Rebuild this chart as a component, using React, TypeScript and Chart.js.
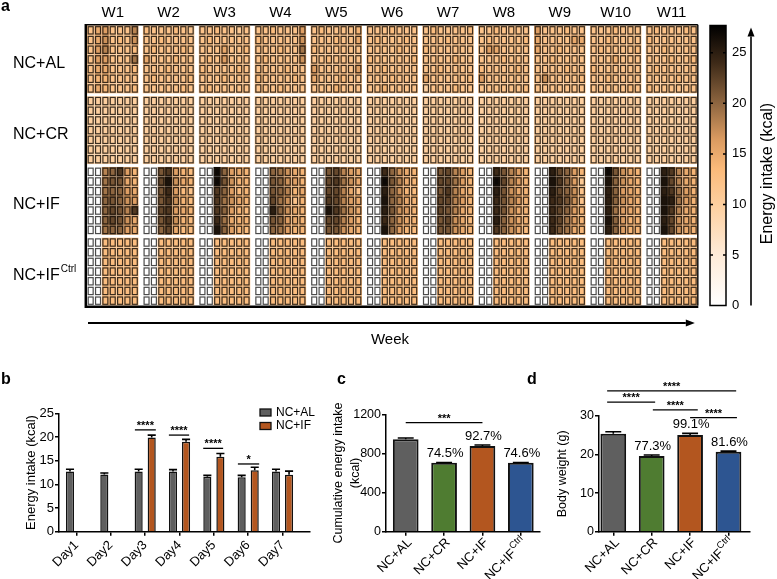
import React, { useEffect, useRef } from 'react';
import { Chart, registerables } from 'chart.js';

Chart.register(...registerables);

const FONT = "'Liberation Sans', Arial, Helvetica, sans-serif";
Chart.defaults.font.family = FONT;
Chart.defaults.color = '#000';

// ---------------- Panel a: heatmap data ----------------
const WEEKS = ['W1', 'W2', 'W3', 'W4', 'W5', 'W6', 'W7', 'W8', 'W9', 'W10', 'W11'];
const GROUP_NAMES = ['NC+AL', 'NC+CR', 'NC+IF', 'NC+IF'];
const GROUP_SUPS = ['', '', '', 'Ctrl'];
// each row = one mouse; 11 weeks of 7 days; each character = kcal (base-36 digit)
const HEAT_AL = [
  'CFGCCCI DCCCDCB CCDCCBC CCDCCCG CDCCCCE CCCDCCC CDCCCCD CCDCCCC GCCCDCC CCCDCCC CDCCCDC',
  'CFHCDCH CCDCCCC CDCCCCC DCCCCCH CCCDCCF CDCCCDC CCCDCCC CDCCCCD FCCCCFF CCDCCCC DCCCCCC',
  'CGICCCD CDCCCDC CCCFCCD CCCDCCJ DCCCCCC CCCCDCC DCCCCCC CGFCCCC FCCDCCC CDCCCCD CCDCCCC',
  'CGGCCCJ FCCCDCC CDCGCCC CDCCCCH CCDCCCC DCCCCCD CCCCDCC CCCDCCC CCDCCCC CCCECCC CCCDCCD',
  'CFFCCCD CCCDCCC DCCCCDC CCCCDCC GCCCCCG CCDCCCC CCDCCCC DCCCCDC CCCCDCC DCCCCCC CDCCCCC',
  'CEECCCC CDCCCCD CCCDCCC DCCCCDC FCCCDCC CCCDCCC FCCCCCD GCCCCCC CHCCCCD CCDCCCC CCCCDCC',
  'CFECCCD CCCCCDC CDCCCCC CCCDCCC CCCECCC CCECCCC ACCCDCC CCCCCCD CCCCCCC CCCCCDC DCCCCCC',
];
const HEAT_CR = [
  'AAAAAAA AAAAAAA AAAAAAA AAAAAAA AAAAAAA AAAAAAA AAAAAAA AAAAAAA AAAAAAA AAAAAAA AAAAAAA',
  'AAAAAAA AAAAAAA AAAAAAA AAAAAAA AAAAAAA AAAAAAA AAAAAAA AAAAAAA AAAAAAA AAAAAAA AAAAAAA',
  'AAAAAAA AAAAAAA AAAAAAA AAAAAAA AAAAAAA AAAAAAA AAAAAAA AAAAAAA AAAAAAA AAAAAAA AAAAAAA',
  'AAAAAAA AAAAAAA AAAAAAA AAAAAAA AAAAAAA AAAAAAA AAAAAAA AAAAAAA AAAAAAA AAAAAAA AAAAAAA',
  'AAAAAAA AAAAAAA AAAAAAA AAAAAAA AAAAAAA AAAAAAA AAAAAAA AAAAAAA AAAAAAA AAAAAAA AAAAAAA',
  'AAAAAAA AAAAAAA AAAAAAA AAAAAAA AAAAAAA AAAAAAA AAAAAAA AAAAAAA AAAAAAA AAAAAAA AAAAAAA',
  'AAAAAAA AAAAAAA AAAAAAA AAAAAAA AAAAAAA AAAAAAA AAAAAAA AAAAAAA AAAAAAA AAAAAAA AAAAAAA',
];
const HEAT_IF = [
  '00IKNGE 00LNGED 00RKGFE 00KJHFE 00LMIGF 00OKHFE 00LMIGE 00OLIGE 00PMKGE 00RLHFE 00PNIFE',
  '00JLLFE 00MQHFE 00RLHEE 00LKHGE 00MNJHF 00RLIFE 00MMJGE 00RMIGE 00QNKGB 00QKHFE 00QMIFE',
  '00JKKGF 00LOGDC 00NKGDE 00LKIEF 00MMIFC 00PKHED 00LNIFE 00PLHFE 00PMKHC 00PKGFE 00PNJGE',
  '00KLKHG 00LNHED 00NJHFE 00MJHCE 00NMIGF 00QKIFE 00MMIGE 00OLIGE 00ONLHC 00PKHFE 00QPJGE',
  '00KMLIN 00MNGFE 00NKGED 00PKHFE 00QNJHF 00PLHGE 00MLIFE 00OLHFE 00OMKGE 00PJGFE 00QNIFE',
  '00KMLHF 00LNHED 00OJFEE 00LKGFE 00MMIGE 00OKHFE 00LMHFD 00PKHFE 00OMJGE 00QKGEE 00PMHFE',
  '00JKKGF 00KMFDD 00QKGED 00KJGEE 00LLHFE 00QKGED 00LLHFE 00NKHFD 00OLJFE 00PKGEE 00QMHFE',
];
const HEAT_IFC = [
  '00DDDDD 00DDDDD 00DDDDD 00DDDDD 00DDDDD 00DDDDD 00DDDDD 00DDDDD 00DDDDD 00DDDDD 00DDDDD',
  '00DDDDD 00DDDDD 00DDDDD 00DDDDD 00DDDDD 00DDDDD 00DDDDD 00DDDDD 00DDDDD 00DDDDD 00DDDDD',
  '00DDDDD 00DDDDD 00DDDDD 00DDDDD 00DDDDD 00DDDDD 00DDDDD 00DDDDD 00DDDDD 00DDDDD 00DDDDD',
  '00DDDDD 00DDDDD 00DDDDD 00DDDDD 00DDDDD 00DDDDD 00DDDDD 00DDDDD 00DDDDD 00DDDDD 00DDDDD',
  '00DDDDD 00DDDDD 00DDDDD 00DDDDD 00DDDDD 00DDDDD 00DDDDD 00DDDDD 00DDDDD 00DDDDD 00DDDDD',
  '00DDDDD 00DDDDD 00DDDDD 00DDDDD 00DDDDD 00DDDDD 00DDDDD 00DDDDD 00DDDDD 00DDDDD 00DDDDD',
  '00DDDDD 00DDDDD 00DDDDD 00DDDDD 00DDDDD 00DDDDD 00DDDDD 00DDDDD 00DDDDD 00DDDDD 00DDDDD',
];
const HEAT_GROUPS = [HEAT_AL, HEAT_CR, HEAT_IF, HEAT_IFC];
const CB_MAX = 27.7;
const CMAP_VALUES = [0, 5, 10, 13.5, 16.5, 20, 24, 27.7];
const CMAP_COLORS = ['#ffffff', '#feebd8', '#fdcf9f', '#fbba7a', '#d99a60', '#8e6640', '#3e2a18', '#000000'];

// ---------------- Panel b data ----------------
const DAYS = ['Day1', 'Day2', 'Day3', 'Day4', 'Day5', 'Day6', 'Day7'];
const B_AL = [12.7, 12.1, 12.7, 12.7, 11.6, 11.5, 12.7];
const B_AL_ERR = [0.5, 0.3, 0.5, 0.4, 0.3, 0.4, 0.5];
const B_IF = [null, null, 19.9, 19.0, 15.8, 13.0, 12.0];
const B_IF_ERR = [0, 0, 0.5, 0.5, 0.7, 0.6, 0.8];
const B_SIG_FROM = [1.7, 2.69, 3.69, 4.7];
const B_SIG_TO = [2.31, 3.28, 4.27, 5.32];
const B_SIG_Y = [21.5, 20.4, 17.6, 14.3];
const B_SIG_TEXT = ['****', '****', '****', '*'];

// ---------------- Panel c data ----------------
const C_VALUES = [944, 705, 876, 705];
const C_ERR = [14, 2, 10, 2];
const C_PCT = ['', '74.5%', '92.7%', '74.6%'];
const C_SIG_FROM = [0];
const C_SIG_TO = [2];
const C_SIG_Y = [1114];
const C_SIG_TEXT = ['***'];

// ---------------- Panel d data ----------------
const D_VALUES = [25.4, 19.6, 25.1, 20.7];
const D_ERR = [0.5, 0.3, 0.4, 0.2];
const D_PCT = ['', '77.3%', '99.1%', '81.6%'];
const D_SIG_FROM = [-0.16, -0.16, 1.03, 2.0];
const D_SIG_TO = [3.2, 1.09, 2.2, 3.22];
const D_SIG_Y = [36.5, 33.6, 31.6, 29.6];
const D_SIG_TEXT = ['****', '****', '****', '****'];

// ---------------- styling ----------------
const GRAY = '#5f5f5f';
const ORANGE = '#b3561f';
const GREEN = '#4f7c31';
const BLUE = '#2d5591';
const EDGE = '#111111';
const GROUP_COLORS = [GRAY, GREEN, ORANGE, BLUE];
const WEEK_PITCH = 7.6;
const GROUP_PITCH = 7.3;

function hexRgb(h: string) {
  return [parseInt(h.slice(1, 3), 16), parseInt(h.slice(3, 5), 16), parseInt(h.slice(5, 7), 16)];
}
function colorFor(v: number) {
  const val = Math.max(0, Math.min(CB_MAX, v));
  for (let i = 1; i < CMAP_VALUES.length; i++) {
    if (val <= CMAP_VALUES[i]) {
      const t = (val - CMAP_VALUES[i - 1]) / (CMAP_VALUES[i] - CMAP_VALUES[i - 1]);
      const a = hexRgb(CMAP_COLORS[i - 1]);
      const b = hexRgb(CMAP_COLORS[i]);
      const c = a.map((x, k) => Math.round(x + (b[k] - x) * t));
      return `rgb(${c[0]},${c[1]},${c[2]})`;
    }
  }
  return '#000';
}

function drawArrow(ctx: any, x1: number, y1: number, x2: number, y2: number, head = 9, half = 3.5, lw = 1.8) {
  const ang = Math.atan2(y2 - y1, x2 - x1);
  const c = Math.cos(ang), s = Math.sin(ang);
  ctx.strokeStyle = '#000';
  ctx.fillStyle = '#000';
  ctx.lineWidth = lw;
  ctx.beginPath();
  ctx.moveTo(x1, y1);
  ctx.lineTo(x2 - head * c, y2 - head * s);
  ctx.stroke();
  ctx.beginPath();
  ctx.moveTo(x2, y2);
  ctx.lineTo(x2 - head * c + half * s, y2 - head * s - half * c);
  ctx.lineTo(x2 - head * c - half * s, y2 - head * s + half * c);
  ctx.closePath();
  ctx.fill();
}

const panelAPlugin = {
  id: 'panelA',
  afterDraw(chart: any) {
    const ctx = chart.ctx;
    const xs = chart.scales.x, ys = chart.scales.y, cb = chart.scales.cb;
    const ca = chart.chartArea;
    ctx.save();
    // cells
    HEAT_GROUPS.forEach((rows, g) => {
      rows.forEach((row, r) => {
        row.split(' ').forEach((wk, w) => {
          for (let d = 0; d < wk.length; d++) {
            const v = parseInt(wk[d], 36);
            const xv = w * WEEK_PITCH + d;
            const yv = g * GROUP_PITCH + r;
            const x0 = xs.getPixelForValue(xv), x1 = xs.getPixelForValue(xv + 1);
            const y0 = ys.getPixelForValue(yv), y1 = ys.getPixelForValue(yv + 1);
            ctx.fillStyle = colorFor(v);
            ctx.fillRect(x0, y0, x1 - x0, y1 - y0);
            ctx.strokeStyle = v === 0 ? 'rgba(55,55,55,0.9)' : 'rgba(25,18,10,0.85)';
            ctx.lineWidth = 1.2;
            ctx.strokeRect(x0 + 1.2, y0 + 1.2, x1 - x0 - 2.4, y1 - y0 - 2.4);
          }
        });
      });
    });
    // frame
    const right = xs.getPixelForValue(WEEKS.length * WEEK_PITCH - (WEEK_PITCH - 7)) + 0.5;
    ctx.strokeStyle = '#000';
    ctx.lineWidth = 1.4;
    ctx.beginPath();
    ctx.moveTo(ca.left - 1, ca.top - 0.8);
    ctx.lineTo(right, ca.top - 0.8);
    ctx.moveTo(right, ca.top - 0.8);
    ctx.lineTo(right, ca.bottom);
    ctx.stroke();
    ctx.lineWidth = 2.5;
    ctx.beginPath();
    ctx.moveTo(ca.left - 1.2, ca.top - 1.5);
    ctx.lineTo(ca.left - 1.2, ca.bottom + 1.2);
    ctx.lineTo(right + 0.5, ca.bottom + 1.2);
    ctx.stroke();

    // week labels
    ctx.fillStyle = '#000';
    ctx.font = `15px ${FONT}`;
    ctx.textAlign = 'center';
    ctx.textBaseline = 'middle';
    WEEKS.forEach((w, i) => ctx.fillText(w, xs.getPixelForValue(i * WEEK_PITCH + 3.5), 13));
    // group labels
    ctx.textAlign = 'left';
    GROUP_NAMES.forEach((n, g) => {
      const y = ys.getPixelForValue(g * GROUP_PITCH + 3.5) + 4;
      ctx.font = `16px ${FONT}`;
      ctx.fillText(n, 13, y);
      if (GROUP_SUPS[g]) {
        const mw = ctx.measureText(n).width;
        ctx.font = `10px ${FONT}`;
        ctx.fillText(GROUP_SUPS[g], 13 + mw + 1, y - 6);
      }
    });
    // week arrow
    drawArrow(ctx, ca.left + 1, 323, right - 3, 323, 9, 3.5, 1.8);
    ctx.font = `15px ${FONT}`;
    ctx.textAlign = 'center';
    ctx.fillText('Week', 390, 340);

    // colorbar
    const cbTop = cb.getPixelForValue(CB_MAX), cbBot = cb.getPixelForValue(0);
    const cbR = cb.left, cbL = cbR - 16;
    const grad = ctx.createLinearGradient(0, cbBot, 0, cbTop);
    CMAP_VALUES.forEach((v, i) => grad.addColorStop(v / CB_MAX, CMAP_COLORS[i]));
    ctx.fillStyle = grad;
    ctx.fillRect(cbL, cbTop, cbR - cbL, cbBot - cbTop);
    ctx.strokeStyle = '#000';
    ctx.lineWidth = 1.5;
    ctx.strokeRect(cbL, cbTop, cbR - cbL, cbBot - cbTop);
    cb.ticks.forEach((t: any) => {
      if (t.value === 0) return;
      const y = cb.getPixelForValue(t.value);
      ctx.beginPath();
      ctx.moveTo(cbL, y); ctx.lineTo(cbL + 3, y);
      ctx.moveTo(cbR - 3, y); ctx.lineTo(cbR, y);
      ctx.stroke();
    });
    drawArrow(ctx, 751, cbBot, 751, cbTop + 2, 9, 3.5, 1.6);
    ctx.save();
    ctx.translate(768, (cbTop + cbBot) / 2 + 8);
    ctx.rotate(-Math.PI / 2);
    ctx.font = `16px ${FONT}`;
    ctx.textAlign = 'center';
    ctx.textBaseline = 'middle';
    ctx.fillStyle = '#000';
    ctx.fillText('Energy intake (kcal)', 0, 0);
    ctx.restore();

    // panel letters
    ctx.font = `bold 16px ${FONT}`;
    ctx.textAlign = 'left';
    ctx.textBaseline = 'alphabetic';
    ctx.fillStyle = '#000';
    ctx.fillText('a', 1, 11);
    ctx.fillText('b', 1, 384);
    ctx.fillText('c', 337, 384);
    ctx.fillText('d', 527, 384);
    ctx.restore();
  },
};

function makeA(canvas: HTMLCanvasElement) {
  return new Chart(canvas, {
    type: 'scatter',
    data: { datasets: [{ data: [] }] },
    options: {
      animation: false,
      responsive: false,
      events: [],
      layout: { padding: { left: 87, top: 25.5, right: 0, bottom: 392 - 305.5 } },
      plugins: { legend: { display: false }, tooltip: { enabled: false } },
      scales: {
        x: { type: 'linear', display: false, min: 0, max: 86.9 },
        y: { type: 'linear', display: false, min: 0, max: 4 * 7 + 3 * (GROUP_PITCH - 7), reverse: true },
        cb: {
          type: 'linear',
          axis: 'y',
          position: 'right',
          min: 0,
          max: CB_MAX,
          afterFit: (s: any) => { s.width = 51; },
          grid: { display: false, drawTicks: false },
          border: { display: false },
          ticks: { stepSize: 5, includeBounds: false, padding: 6, color: '#000', font: { size: 13 } },
        },
      },
    } as any,
    plugins: [panelAPlugin],
  });
}

// ---------------- bar panel helpers ----------------
function yAxis(min: number, max: number, step: number, fontSize: number, width: number, title: any, titleFont: number, lh: number, pad: number) {
  return {
    type: 'linear',
    min,
    max,
    afterFit: (s: any) => { s.width = width; },
    ticks: { stepSize: step, includeBounds: false, font: { size: fontSize }, color: '#000', padding: 1, callback: (v: any) => String(v) },
    grid: { display: true, drawOnChartArea: false, drawTicks: true, tickLength: 4, color: '#000', lineWidth: 1.5 },
    border: { display: true, color: '#000', width: 1.5 },
    title: { display: true, text: title, color: '#000', font: { size: titleFont, lineHeight: lh }, padding: { top: pad, bottom: 0 } },
  };
}
function xAxis(min: number, max: number, labels: string[], showLabels: boolean, height: number) {
  return {
    type: 'linear',
    min,
    max,
    offset: false,
    afterBuildTicks: (s: any) => { s.ticks = labels.map((_, i) => ({ value: i })); },
    afterFit: (s: any) => { s.height = height; },
    ticks: {
      display: showLabels,
      autoSkip: false,
      minRotation: 45,
      maxRotation: 45,
      padding: 2,
      font: { size: 13 },
      color: '#000',
      callback: (v: any) => labels[v] ?? '',
    },
    grid: { display: true, offset: false, drawOnChartArea: false, drawTicks: true, tickLength: 4, color: '#000', lineWidth: 1.5 },
    border: { display: true, color: '#000', width: 1.5 },
  };
}

function extrasPlugin(cfg: any) {
  return {
    id: 'extras',
    afterDatasetsDraw(chart: any) {
      const ctx = chart.ctx;
      const xs = chart.scales.x, ys = chart.scales.y, ca = chart.chartArea;
      ctx.save();
      // error bars
      chart.data.datasets.forEach((ds: any, di: number) => {
        const meta = chart.getDatasetMeta(di);
        meta.data.forEach((bar: any, i: number) => {
          const v = ds.data[i].y;
          if (v == null) return;
          const e = cfg.errors[di][i];
          const yb = ys.getPixelForValue(v), yt = ys.getPixelForValue(v + e);
          const cw = bar.width * cfg.capRatio;
          ctx.strokeStyle = '#000';
          ctx.lineWidth = 1.6;
          ctx.beginPath();
          ctx.moveTo(bar.x, yb);
          ctx.lineTo(bar.x, yt);
          ctx.moveTo(bar.x - cw / 2, yt);
          ctx.lineTo(bar.x + cw / 2, yt);
          ctx.stroke();
        });
      });
      // percentage labels
      if (cfg.pct) {
        const meta = chart.getDatasetMeta(0);
        ctx.font = `13px ${FONT}`;
        ctx.fillStyle = '#000';
        ctx.textAlign = 'center';
        ctx.textBaseline = 'middle';
        cfg.pct.forEach((p: string, i: number) => {
          if (!p) return;
          const v = chart.data.datasets[0].data[i].y + cfg.errors[0][i];
          ctx.fillText(p, meta.data[i].x + 1, ys.getPixelForValue(v) - 9);
        });
      }
      // significance lines
      ctx.strokeStyle = '#000';
      ctx.lineWidth = 1.3;
      cfg.sigFrom.forEach((f: number, k: number) => {
        const x1 = xs.getPixelForValue(f), x2 = xs.getPixelForValue(cfg.sigTo[k]);
        const y = ys.getPixelForValue(cfg.sigY[k]);
        ctx.beginPath();
        ctx.moveTo(x1, y);
        ctx.lineTo(x2, y);
        ctx.stroke();
        ctx.font = `bold 11px ${FONT}`;
        ctx.fillStyle = '#000';
        ctx.textAlign = 'center';
        ctx.textBaseline = 'alphabetic';
        ctx.fillText(cfg.sigText[k], (x1 + x2) / 2, y - 1);
      });
      // custom x labels with superscripts
      if (cfg.groupLabels) {
        GROUP_NAMES.forEach((name, i) => {
          const x = xs.getPixelForValue(i) + 4;
          const y = ca.bottom + 9;
          ctx.save();
          ctx.translate(x, y);
          ctx.rotate(-Math.PI / 4);
          ctx.textAlign = 'right';
          ctx.textBaseline = 'middle';
          ctx.fillStyle = '#000';
          let off = 0;
          if (GROUP_SUPS[i]) {
            ctx.font = `9.5px ${FONT}`;
            ctx.fillText(GROUP_SUPS[i], 0, -5);
            off = ctx.measureText(GROUP_SUPS[i]).width + 0.5;
          }
          ctx.font = `13px ${FONT}`;
          ctx.fillText(name, -off, 0);
          ctx.restore();
        });
      }
      // legend
      if (cfg.legend) {
        chart.data.datasets.forEach((ds: any, di: number) => {
          const y = cfg.legend.y + di * 13.5;
          ctx.fillStyle = ds.backgroundColor;
          ctx.fillRect(cfg.legend.x, y - 3.5, 11, 7);
          ctx.strokeStyle = '#111';
          ctx.lineWidth = 1.3;
          ctx.strokeRect(cfg.legend.x, y - 3.5, 11, 7);
          ctx.fillStyle = '#000';
          ctx.font = `12px ${FONT}`;
          ctx.textAlign = 'left';
          ctx.textBaseline = 'middle';
          ctx.fillText(ds.label, cfg.legend.x + 16, y);
        });
      }
      ctx.restore();
    },
  };
}

function makeB(canvas: HTMLCanvasElement) {
  return new Chart(canvas, {
    type: 'bar',
    data: {
      datasets: [
        {
          label: 'NC+AL',
          data: DAYS.map((_, i) => ({ x: i, y: B_AL[i] })),
          backgroundColor: GRAY,
          borderColor: EDGE,
          borderWidth: 1.5,
          borderSkipped: 'start',
          categoryPercentage: 0.76,
          barPercentage: 0.62,
        },
        {
          label: 'NC+IF',
          data: DAYS.map((_, i) => ({ x: i, y: B_IF[i] })),
          backgroundColor: ORANGE,
          borderColor: EDGE,
          borderWidth: 1.5,
          borderSkipped: 'start',
          categoryPercentage: 0.76,
          barPercentage: 0.62,
        },
      ],
    },
    options: {
      animation: false,
      responsive: false,
      events: [],
      layout: { padding: { left: 0, top: 45.3, right: 12, bottom: 0 } },
      plugins: { legend: { display: false }, tooltip: { enabled: false } },
      scales: {
        x: xAxis(-0.51, 6.8, DAYS, true, 47.3),
        y: yAxis(0, 25, 5, 13, 59, 'Energy intake (kcal)', 13, 1.2, 24),
      },
    } as any,
    plugins: [
      extrasPlugin({
        errors: [B_AL_ERR, B_IF_ERR],
        capRatio: 1,
        sigFrom: B_SIG_FROM,
        sigTo: B_SIG_TO,
        sigY: B_SIG_Y,
        sigText: B_SIG_TEXT,
        legend: { x: 260, y: 412.5 - 368 },
      }),
    ],
  });
}

function makeGroupChart(canvas: HTMLCanvasElement, values: number[], errs: number[], pct: string[], y: any, x: any, padding: any, sig: any) {
  return new Chart(canvas, {
    type: 'bar',
    data: {
      datasets: [
        {
          label: 'groups',
          data: GROUP_NAMES.map((_, i) => ({ x: i, y: values[i] })),
          backgroundColor: GROUP_COLORS,
          borderColor: EDGE,
          borderWidth: 2,
          borderSkipped: 'start',
          categoryPercentage: 1,
          barPercentage: 0.67,
        },
      ],
    },
    options: {
      animation: false,
      responsive: false,
      events: [],
      layout: { padding },
      plugins: { legend: { display: false }, tooltip: { enabled: false } },
      scales: { x, y },
    } as any,
    plugins: [
      extrasPlugin({
        errors: [errs],
        capRatio: 0.62,
        pct,
        sigFrom: sig.from,
        sigTo: sig.to,
        sigY: sig.y,
        sigText: sig.text,
        groupLabels: true,
      }),
    ],
  });
}

export default function App() {
  const aRef = useRef<HTMLCanvasElement>(null);
  const bRef = useRef<HTMLCanvasElement>(null);
  const cRef = useRef<HTMLCanvasElement>(null);
  const dRef = useRef<HTMLCanvasElement>(null);

  useEffect(() => {
    const charts = [
      makeA(aRef.current as HTMLCanvasElement),
      makeB(bRef.current as HTMLCanvasElement),
      makeGroupChart(
        cRef.current as HTMLCanvasElement,
        C_VALUES,
        C_ERR,
        C_PCT,
        yAxis(0, 1200, 400, 12.5, 66, ['Cumulative energy intake', '(kcal)'], 12.5, 1.36, 10.4),
        xAxis(-0.514, 3.5, GROUP_NAMES, false, 47.3),
        { left: 0, top: 46.3, right: 5, bottom: 0 },
        { from: C_SIG_FROM, to: C_SIG_TO, y: C_SIG_Y, text: C_SIG_TEXT }
      ),
      makeGroupChart(
        dRef.current as HTMLCanvasElement,
        D_VALUES,
        D_ERR,
        D_PCT,
        yAxis(0, 30, 10, 12.5, 54, 'Body weight (g)', 12.5, 1.2, 10.5),
        xAxis(-0.372, 3.56, GROUP_NAMES, false, 47.3),
        { left: 0, top: 48, right: 27, bottom: 0 },
        { from: D_SIG_FROM, to: D_SIG_TO, y: D_SIG_Y, text: D_SIG_TEXT }
      ),
    ];
    return () => charts.forEach((c) => c.destroy());
  }, []);

  return (
    <div style={{ position: 'absolute', left: 0, top: 0, width: 777, height: 579, background: '#fff', overflow: 'hidden' }}>
      <canvas ref={aRef} width={777} height={392} style={{ position: 'absolute', left: 0, top: 0 }} />
      <canvas ref={bRef} width={322} height={211} style={{ position: 'absolute', left: 0, top: 368 }} />
      <canvas ref={cRef} width={225} height={211} style={{ position: 'absolute', left: 320, top: 368 }} />
      <canvas ref={dRef} width={232} height={211} style={{ position: 'absolute', left: 545, top: 368 }} />
    </div>
  );
}
